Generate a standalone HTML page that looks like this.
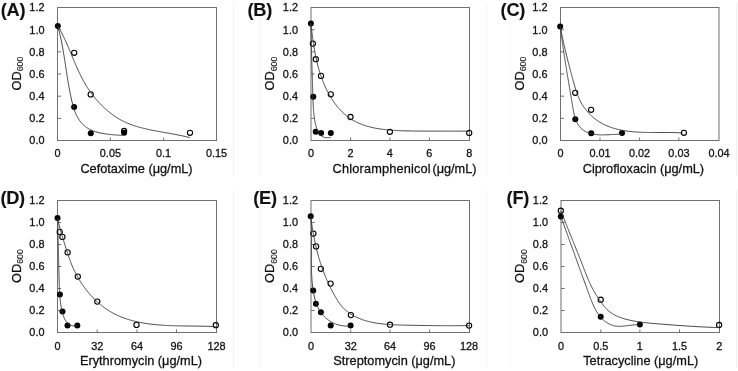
<!DOCTYPE html>
<html><head><meta charset="utf-8"><style>
html,body{margin:0;padding:0;background:#fff;}
body{width:738px;height:371px;overflow:hidden;}
svg{display:block;font-family:"Liberation Sans", sans-serif;filter:grayscale(1);} text{stroke:#111;stroke-width:0.28px;}
</style></head><body>
<svg width="738" height="371" viewBox="0 0 738 371">
<rect width="738" height="371" fill="#fff"/>
<line x1="233.5" y1="3" x2="233.5" y2="176" stroke="#f3f3f3" stroke-width="1"/>
<line x1="233.5" y1="190" x2="233.5" y2="368" stroke="#f3f3f3" stroke-width="1"/>
<line x1="260.5" y1="3" x2="260.5" y2="176" stroke="#f6f6f6" stroke-width="1"/>
<line x1="260.5" y1="190" x2="260.5" y2="368" stroke="#f6f6f6" stroke-width="1"/>
<line x1="486.5" y1="3" x2="486.5" y2="176" stroke="#f4f4f4" stroke-width="1"/>
<line x1="486.5" y1="190" x2="486.5" y2="368" stroke="#f4f4f4" stroke-width="1"/>
<line x1="510.0" y1="3" x2="510.0" y2="176" stroke="#f7f7f7" stroke-width="1"/>
<line x1="510.0" y1="190" x2="510.0" y2="368" stroke="#f7f7f7" stroke-width="1"/>
<line x1="736.5" y1="3" x2="736.5" y2="176" stroke="#f2f2f2" stroke-width="1"/>
<line x1="736.5" y1="190" x2="736.5" y2="368" stroke="#f2f2f2" stroke-width="1"/>
<g><rect x="57.5" y="7.5" width="159.00" height="133.00" fill="none" stroke="#707070" stroke-width="1"/><text x="44.50" y="144.40" font-size="10.9" text-anchor="end" fill="#111">0.0</text><line x1="57.5" y1="118.33" x2="61.1" y2="118.33" stroke="#707070" stroke-width="1"/><text x="44.50" y="122.23" font-size="10.9" text-anchor="end" fill="#111">0.2</text><line x1="57.5" y1="96.17" x2="61.1" y2="96.17" stroke="#707070" stroke-width="1"/><text x="44.50" y="100.07" font-size="10.9" text-anchor="end" fill="#111">0.4</text><line x1="57.5" y1="74.00" x2="61.1" y2="74.00" stroke="#707070" stroke-width="1"/><text x="44.50" y="77.90" font-size="10.9" text-anchor="end" fill="#111">0.6</text><line x1="57.5" y1="51.83" x2="61.1" y2="51.83" stroke="#707070" stroke-width="1"/><text x="44.50" y="55.73" font-size="10.9" text-anchor="end" fill="#111">0.8</text><line x1="57.5" y1="29.67" x2="61.1" y2="29.67" stroke="#707070" stroke-width="1"/><text x="44.50" y="33.57" font-size="10.9" text-anchor="end" fill="#111">1.0</text><text x="44.50" y="11.40" font-size="10.9" text-anchor="end" fill="#111">1.2</text><text x="57.5" y="157.00" font-size="10.9" text-anchor="middle" fill="#111">0</text><line x1="110.4" y1="140.5" x2="110.4" y2="137.5" stroke="#707070" stroke-width="1"/><text x="110.4" y="157.00" font-size="10.9" text-anchor="middle" fill="#111">0.05</text><line x1="163.6" y1="140.5" x2="163.6" y2="137.5" stroke="#707070" stroke-width="1"/><text x="163.6" y="157.00" font-size="10.9" text-anchor="middle" fill="#111">0.1</text><text x="216.6" y="157.00" font-size="10.9" text-anchor="middle" fill="#111">0.15</text><text x="136.5" y="172.60" font-size="12.75" text-anchor="middle" fill="#111">Cefotaxime (μg/mL)</text><text transform="translate(20.80,73.50) rotate(-90)" font-size="12.75" text-anchor="middle" fill="#111">OD<tspan font-size="8.8" dy="2.3" style="stroke-width:0.1px">600</tspan></text><text x="0.7" y="15.50" font-size="18.2" font-weight="bold" letter-spacing="-0.25" fill="#111" style="stroke-width:0.1px">(A)</text><circle cx="74.2" cy="52.8" r="2.6" fill="none" stroke="#000" stroke-width="1.1"/><circle cx="90.7" cy="94.4" r="2.6" fill="none" stroke="#000" stroke-width="1.1"/><circle cx="124.1" cy="131.0" r="2.6" fill="none" stroke="#000" stroke-width="1.1"/><circle cx="190" cy="132.8" r="2.6" fill="none" stroke="#000" stroke-width="1.1"/><circle cx="57.8" cy="26.1" r="3.0" fill="#000"/><circle cx="74.1" cy="107.1" r="3.0" fill="#000"/><circle cx="90.8" cy="133.3" r="3.0" fill="#000"/><circle cx="124.1" cy="132.8" r="3.0" fill="#000"/><path d="M57.78,26.20 L58.05,27.19 L58.32,28.17 L58.59,29.16 L58.84,30.15 L59.10,31.13 L59.34,32.12 L59.59,33.11 L59.82,34.10 L60.06,35.08 L60.28,36.07 L60.50,37.06 L60.72,38.05 L60.94,39.04 L61.14,40.03 L61.35,41.02 L61.55,42.01 L61.75,43.00 L61.94,43.99 L62.13,44.98 L62.32,45.97 L62.50,46.96 L62.68,47.95 L62.86,48.94 L63.04,49.94 L63.21,50.93 L63.38,51.92 L63.55,52.91 L63.71,53.91 L63.88,54.90 L64.04,55.90 L64.20,56.89 L64.36,57.88 L64.51,58.88 L64.67,59.87 L64.82,60.87 L64.98,61.87 L65.13,62.86 L65.28,63.86 L65.43,64.86 L65.59,65.85 L65.74,66.85 L65.89,67.85 L66.04,68.85 L66.19,69.85 L66.35,70.85 L66.50,71.85 L66.65,72.85 L66.81,73.85 L66.96,74.85 L67.12,75.85 L67.28,76.85 L67.44,77.85 L67.60,78.85 L67.76,79.86 L67.92,80.86 L68.09,81.86 L68.26,82.87 L68.43,83.87 L68.60,84.88 L68.78,85.88 L68.96,86.89 L69.14,87.89 L69.33,88.90 L69.52,89.90 L69.71,90.91 L69.91,91.92 L70.10,92.93 L70.31,93.93 L70.52,94.94 L70.73,95.95 L70.94,96.96 L71.16,97.97 L71.39,98.98 L71.62,99.99 L71.85,101.00 L72.09,102.01 L72.34,103.02 L72.60,104.03 L72.86,105.03 L73.14,106.03 L73.42,107.02 L73.72,108.01 L74.03,108.98 L74.35,109.95 L74.69,110.91 L75.04,111.86 L75.41,112.80 L75.79,113.72 L76.20,114.63 L76.62,115.53 L77.06,116.41 L77.53,117.27 L78.01,118.11 L78.52,118.94 L79.05,119.75 L79.60,120.54 L80.17,121.31 L80.76,122.06 L81.37,122.79 L82.01,123.50 L82.66,124.18 L83.34,124.85 L84.04,125.48 L84.76,126.10 L85.51,126.69 L86.27,127.25 L87.06,127.79 L87.87,128.30 L88.71,128.79 L89.56,129.25 L90.43,129.68 L91.32,130.10 L92.23,130.49 L93.15,130.85 L94.09,131.20 L95.05,131.53 L96.01,131.83 L96.99,132.12 L97.98,132.39 L98.98,132.64 L99.99,132.88 L101.01,133.10 L102.03,133.31 L103.07,133.50 L104.10,133.67 L105.14,133.84 L106.19,133.99 L107.23,134.14 L108.28,134.27 L109.33,134.39 L110.38,134.50 L111.42,134.61 L112.46,134.71 L113.50,134.80 L114.53,134.88 L115.56,134.96 L116.58,135.04 L117.60,135.11 L118.60,135.18 L119.59,135.25 L120.58,135.32 L121.55,135.39 L122.51,135.46" fill="none" stroke="#333" stroke-width="0.9"/><path d="M57.87,26.01 L58.38,26.88 L58.88,27.76 L59.38,28.64 L59.87,29.52 L60.35,30.40 L60.82,31.29 L61.29,32.18 L61.76,33.08 L62.21,33.97 L62.66,34.87 L63.11,35.78 L63.55,36.68 L63.99,37.59 L64.42,38.50 L64.84,39.41 L65.27,40.33 L65.68,41.24 L66.10,42.16 L66.51,43.08 L66.92,44.00 L67.32,44.92 L67.72,45.85 L68.12,46.77 L68.52,47.70 L68.92,48.62 L69.31,49.55 L69.70,50.48 L70.09,51.41 L70.48,52.34 L70.87,53.26 L71.26,54.19 L71.64,55.12 L72.03,56.05 L72.42,56.98 L72.81,57.91 L73.19,58.84 L73.58,59.76 L73.97,60.69 L74.36,61.61 L74.76,62.54 L75.15,63.46 L75.55,64.38 L75.95,65.30 L76.35,66.22 L76.75,67.14 L77.16,68.05 L77.57,68.96 L77.98,69.88 L78.40,70.78 L78.82,71.69 L79.24,72.59 L79.67,73.49 L80.10,74.39 L80.54,75.29 L80.99,76.18 L81.44,77.07 L81.89,77.96 L82.35,78.84 L82.82,79.72 L83.29,80.60 L83.77,81.47 L84.25,82.34 L84.74,83.21 L85.24,84.07 L85.75,84.93 L86.27,85.79 L86.79,86.64 L87.32,87.48 L87.86,88.32 L88.41,89.16 L88.96,89.99 L89.53,90.82 L90.10,91.64 L90.69,92.46 L91.28,93.27 L91.88,94.08 L92.49,94.88 L93.10,95.68 L93.73,96.47 L94.36,97.26 L95.00,98.04 L95.65,98.81 L96.31,99.58 L96.98,100.34 L97.65,101.09 L98.33,101.84 L99.01,102.58 L99.71,103.32 L100.41,104.04 L101.12,104.77 L101.83,105.48 L102.55,106.19 L103.28,106.88 L104.02,107.58 L104.76,108.26 L105.51,108.94 L106.26,109.60 L107.02,110.26 L107.79,110.91 L108.56,111.56 L109.34,112.19 L110.13,112.81 L110.92,113.43 L111.72,114.03 L112.53,114.63 L113.34,115.21 L114.16,115.79 L114.98,116.35 L115.82,116.90 L116.65,117.45 L117.50,117.98 L118.35,118.50 L119.21,119.01 L120.07,119.50 L120.94,119.99 L121.81,120.46 L122.70,120.92 L123.58,121.37 L124.48,121.80 L125.38,122.22 L126.28,122.63 L127.20,123.03 L128.11,123.41 L129.04,123.79 L129.97,124.15 L130.90,124.50 L131.84,124.84 L132.78,125.17 L133.72,125.50 L134.67,125.81 L135.63,126.11 L136.59,126.41 L137.55,126.69 L138.51,126.97 L139.48,127.24 L140.45,127.51 L141.42,127.76 L142.40,128.01 L143.37,128.26 L144.35,128.49 L145.33,128.73 L146.31,128.95 L147.30,129.18 L148.28,129.39 L149.27,129.61 L150.26,129.82 L151.25,130.02 L152.24,130.22 L153.23,130.42 L154.22,130.61 L155.21,130.80 L156.21,130.99 L157.20,131.18 L158.20,131.36 L159.19,131.54 L160.19,131.72 L161.18,131.90 L162.18,132.08 L163.18,132.26 L164.17,132.43 L165.17,132.61 L166.17,132.79 L167.16,132.96 L168.16,133.14 L169.15,133.31 L170.15,133.49 L171.14,133.67 L172.13,133.85 L173.13,134.03 L174.12,134.22 L175.11,134.40 L176.10,134.59 L177.09,134.78 L178.07,134.97 L179.06,135.17 L180.04,135.37 L181.03,135.57 L182.01,135.78 L182.99,136.00 L183.97,136.21 L184.94,136.43 L185.92,136.66 L186.89,136.89 L187.86,137.13 L188.82,137.37 L189.79,137.62" fill="none" stroke="#333" stroke-width="0.9"/></g>
<g><rect x="311.0" y="7.5" width="158.50" height="133.00" fill="none" stroke="#707070" stroke-width="1"/><text x="298.00" y="144.40" font-size="10.9" text-anchor="end" fill="#111">0.0</text><line x1="311.0" y1="118.33" x2="314.6" y2="118.33" stroke="#707070" stroke-width="1"/><text x="298.00" y="122.23" font-size="10.9" text-anchor="end" fill="#111">0.2</text><line x1="311.0" y1="96.17" x2="314.6" y2="96.17" stroke="#707070" stroke-width="1"/><text x="298.00" y="100.07" font-size="10.9" text-anchor="end" fill="#111">0.4</text><line x1="311.0" y1="74.00" x2="314.6" y2="74.00" stroke="#707070" stroke-width="1"/><text x="298.00" y="77.90" font-size="10.9" text-anchor="end" fill="#111">0.6</text><line x1="311.0" y1="51.83" x2="314.6" y2="51.83" stroke="#707070" stroke-width="1"/><text x="298.00" y="55.73" font-size="10.9" text-anchor="end" fill="#111">0.8</text><line x1="311.0" y1="29.67" x2="314.6" y2="29.67" stroke="#707070" stroke-width="1"/><text x="298.00" y="33.57" font-size="10.9" text-anchor="end" fill="#111">1.0</text><text x="298.00" y="11.40" font-size="10.9" text-anchor="end" fill="#111">1.2</text><text x="311" y="157.00" font-size="10.9" text-anchor="middle" fill="#111">0</text><line x1="350.6" y1="140.5" x2="350.6" y2="137.5" stroke="#707070" stroke-width="1"/><text x="350.6" y="157.00" font-size="10.9" text-anchor="middle" fill="#111">2</text><line x1="389.9" y1="140.5" x2="389.9" y2="137.5" stroke="#707070" stroke-width="1"/><text x="389.9" y="157.00" font-size="10.9" text-anchor="middle" fill="#111">4</text><line x1="429.4" y1="140.5" x2="429.4" y2="137.5" stroke="#707070" stroke-width="1"/><text x="429.4" y="157.00" font-size="10.9" text-anchor="middle" fill="#111">6</text><text x="469.4" y="157.00" font-size="10.9" text-anchor="middle" fill="#111">8</text><text x="332.6" y="172.60" font-size="12.75" letter-spacing="0.17" fill="#111">Chloramphenicol</text><text x="432.4" y="172.60" font-size="12.75" fill="#111">(μg/mL)</text><text transform="translate(274.30,73.50) rotate(-90)" font-size="12.75" text-anchor="middle" fill="#111">OD<tspan font-size="8.8" dy="2.3" style="stroke-width:0.1px">600</tspan></text><text x="247.5" y="15.50" font-size="18.2" font-weight="bold" letter-spacing="-0.25" fill="#111" style="stroke-width:0.1px">(B)</text><circle cx="312.9" cy="43.6" r="2.6" fill="none" stroke="#000" stroke-width="1.1"/><circle cx="315.8" cy="59.2" r="2.6" fill="none" stroke="#000" stroke-width="1.1"/><circle cx="321" cy="75.9" r="2.6" fill="none" stroke="#000" stroke-width="1.1"/><circle cx="330.8" cy="94.3" r="2.6" fill="none" stroke="#000" stroke-width="1.1"/><circle cx="350.5" cy="117" r="2.6" fill="none" stroke="#000" stroke-width="1.1"/><circle cx="389.9" cy="131.8" r="2.6" fill="none" stroke="#000" stroke-width="1.1"/><circle cx="469.2" cy="132.9" r="2.6" fill="none" stroke="#000" stroke-width="1.1"/><circle cx="310.9" cy="23.4" r="3.0" fill="#000"/><circle cx="313.3" cy="96.7" r="3.0" fill="#000"/><circle cx="315.7" cy="131.7" r="3.0" fill="#000"/><circle cx="321.1" cy="133.1" r="3.0" fill="#000"/><circle cx="330.8" cy="133.1" r="3.0" fill="#000"/><path d="M310.92,23.39 L310.93,24.41 L310.94,25.44 L310.96,26.46 L310.97,27.48 L310.98,28.50 L311.00,29.52 L311.01,30.54 L311.03,31.55 L311.05,32.57 L311.06,33.58 L311.08,34.60 L311.10,35.61 L311.12,36.62 L311.14,37.63 L311.17,38.64 L311.19,39.64 L311.21,40.65 L311.24,41.66 L311.26,42.66 L311.28,43.66 L311.31,44.67 L311.34,45.67 L311.36,46.67 L311.39,47.68 L311.42,48.68 L311.45,49.68 L311.48,50.68 L311.50,51.68 L311.53,52.68 L311.56,53.68 L311.59,54.68 L311.62,55.68 L311.65,56.68 L311.69,57.67 L311.72,58.67 L311.75,59.67 L311.78,60.67 L311.81,61.67 L311.84,62.67 L311.88,63.67 L311.91,64.67 L311.94,65.67 L311.97,66.67 L312.00,67.67 L312.04,68.67 L312.07,69.67 L312.10,70.67 L312.13,71.67 L312.17,72.67 L312.20,73.67 L312.23,74.68 L312.26,75.68 L312.29,76.69 L312.32,77.69 L312.36,78.70 L312.39,79.71 L312.42,80.71 L312.45,81.72 L312.48,82.73 L312.51,83.74 L312.54,84.76 L312.57,85.77 L312.59,86.78 L312.62,87.80 L312.65,88.82 L312.68,89.84 L312.70,90.85 L312.73,91.88 L312.76,92.90 L312.78,93.92 L312.81,94.95 L312.84,95.97 L312.87,97.00 L312.90,98.02 L312.93,99.05 L312.97,100.07 L313.00,101.10 L313.05,102.13 L313.09,103.15 L313.14,104.18 L313.19,105.20 L313.25,106.23 L313.32,107.25 L313.39,108.27 L313.46,109.29 L313.55,110.31 L313.64,111.33 L313.73,112.35 L313.84,113.36 L313.95,114.37 L314.07,115.38 L314.20,116.39 L314.33,117.40 L314.48,118.40 L314.64,119.40 L314.81,120.40 L314.99,121.39 L315.17,122.38 L315.38,123.37 L315.59,124.35 L315.81,125.33 L316.06,126.30 L316.31,127.26 L316.59,128.20 L316.90,129.12 L317.23,130.02 L317.59,130.88 L317.98,131.72 L318.41,132.52 L318.87,133.27 L319.37,133.98 L319.92,134.65 L320.51,135.26 L321.15,135.81 L321.84,136.30 L322.59,136.73 L323.39,137.09 L324.25,137.37 L325.17,137.58 L326.16,137.71 L327.22,137.75 L328.34,137.70 L329.54,137.56 L330.81,137.32" fill="none" stroke="#333" stroke-width="0.9"/><path d="M310.92,23.41 L311.03,24.40 L311.15,25.40 L311.26,26.39 L311.38,27.39 L311.50,28.38 L311.62,29.37 L311.74,30.37 L311.86,31.36 L311.98,32.36 L312.10,33.35 L312.23,34.35 L312.35,35.34 L312.48,36.33 L312.61,37.33 L312.74,38.32 L312.88,39.31 L313.01,40.30 L313.15,41.30 L313.30,42.29 L313.44,43.28 L313.59,44.27 L313.74,45.26 L313.89,46.25 L314.05,47.24 L314.21,48.23 L314.38,49.22 L314.55,50.20 L314.72,51.19 L314.90,52.18 L315.08,53.16 L315.27,54.15 L315.46,55.13 L315.66,56.11 L315.86,57.10 L316.06,58.08 L316.27,59.06 L316.49,60.04 L316.71,61.02 L316.94,62.00 L317.17,62.97 L317.41,63.95 L317.66,64.92 L317.91,65.90 L318.17,66.87 L318.43,67.84 L318.71,68.81 L318.98,69.78 L319.27,70.75 L319.56,71.72 L319.86,72.68 L320.17,73.65 L320.49,74.61 L320.81,75.57 L321.14,76.53 L321.48,77.49 L321.83,78.45 L322.18,79.41 L322.55,80.36 L322.92,81.32 L323.30,82.27 L323.69,83.21 L324.09,84.16 L324.49,85.10 L324.91,86.04 L325.33,86.98 L325.77,87.91 L326.21,88.84 L326.66,89.76 L327.12,90.68 L327.58,91.59 L328.06,92.50 L328.54,93.40 L329.04,94.30 L329.54,95.19 L330.05,96.07 L330.57,96.95 L331.10,97.82 L331.64,98.68 L332.19,99.53 L332.75,100.38 L333.31,101.22 L333.89,102.05 L334.47,102.87 L335.06,103.68 L335.67,104.48 L336.28,105.28 L336.90,106.06 L337.53,106.83 L338.17,107.60 L338.82,108.35 L339.47,109.09 L340.14,109.82 L340.82,110.54 L341.50,111.24 L342.20,111.93 L342.90,112.62 L343.62,113.28 L344.34,113.94 L345.08,114.58 L345.82,115.21 L346.57,115.82 L347.33,116.42 L348.11,117.01 L348.89,117.58 L349.68,118.13 L350.48,118.67 L351.29,119.20 L352.11,119.71 L352.94,120.20 L353.78,120.68 L354.63,121.15 L355.49,121.60 L356.35,122.03 L357.23,122.45 L358.11,122.86 L359.00,123.25 L359.90,123.63 L360.80,124.00 L361.71,124.36 L362.63,124.70 L363.56,125.03 L364.49,125.35 L365.43,125.65 L366.38,125.95 L367.33,126.23 L368.29,126.50 L369.25,126.76 L370.22,127.01 L371.19,127.25 L372.17,127.48 L373.16,127.70 L374.14,127.91 L375.14,128.11 L376.14,128.30 L377.14,128.48 L378.14,128.66 L379.15,128.82 L380.16,128.98 L381.18,129.12 L382.20,129.26 L383.22,129.40 L384.24,129.52 L385.27,129.64 L386.29,129.75 L387.32,129.86 L388.36,129.95 L389.39,130.05 L390.42,130.13 L391.46,130.21 L392.50,130.29 L393.53,130.36 L394.57,130.42 L395.61,130.48 L396.65,130.54 L397.68,130.59 L398.72,130.64 L399.76,130.68 L400.80,130.72 L401.83,130.76 L402.87,130.79 L403.90,130.82 L404.93,130.85 L405.96,130.87 L406.99,130.90 L408.01,130.92 L409.03,130.94 L410.05,130.96 L411.07,130.98 L412.09,130.99 L413.10,131.01 L414.11,131.02 L415.12,131.03 L416.12,131.05 L417.13,131.06 L418.13,131.07 L419.13,131.07 L420.13,131.08 L421.12,131.09 L422.12,131.10 L423.11,131.10 L424.10,131.11 L425.09,131.11 L426.08,131.11 L427.07,131.12 L428.06,131.12 L429.05,131.12 L430.03,131.12 L431.02,131.12 L432.01,131.12 L432.99,131.12 L433.98,131.12 L434.96,131.12 L435.95,131.12 L436.93,131.12 L437.92,131.12 L438.90,131.12 L439.89,131.12 L440.87,131.12 L441.86,131.11 L442.85,131.11 L443.83,131.11 L444.82,131.11 L445.81,131.11 L446.80,131.11 L447.80,131.11 L448.79,131.11 L449.79,131.11 L450.78,131.11 L451.78,131.11 L452.78,131.11 L453.78,131.11 L454.79,131.11 L455.79,131.11 L456.80,131.12 L457.81,131.12 L458.83,131.12 L459.84,131.13 L460.86,131.14 L461.88,131.14 L462.91,131.15 L463.93,131.16 L464.96,131.17 L466.00,131.18 L467.03,131.19 L468.07,131.20 L469.12,131.21" fill="none" stroke="#333" stroke-width="0.9"/></g>
<g><rect x="560.5" y="7.5" width="158.50" height="133.00" fill="none" stroke="#707070" stroke-width="1"/><text x="547.50" y="144.40" font-size="10.9" text-anchor="end" fill="#111">0.0</text><line x1="560.5" y1="118.33" x2="564.1" y2="118.33" stroke="#707070" stroke-width="1"/><text x="547.50" y="122.23" font-size="10.9" text-anchor="end" fill="#111">0.2</text><line x1="560.5" y1="96.17" x2="564.1" y2="96.17" stroke="#707070" stroke-width="1"/><text x="547.50" y="100.07" font-size="10.9" text-anchor="end" fill="#111">0.4</text><line x1="560.5" y1="74.00" x2="564.1" y2="74.00" stroke="#707070" stroke-width="1"/><text x="547.50" y="77.90" font-size="10.9" text-anchor="end" fill="#111">0.6</text><line x1="560.5" y1="51.83" x2="564.1" y2="51.83" stroke="#707070" stroke-width="1"/><text x="547.50" y="55.73" font-size="10.9" text-anchor="end" fill="#111">0.8</text><line x1="560.5" y1="29.67" x2="564.1" y2="29.67" stroke="#707070" stroke-width="1"/><text x="547.50" y="33.57" font-size="10.9" text-anchor="end" fill="#111">1.0</text><text x="547.50" y="11.40" font-size="10.9" text-anchor="end" fill="#111">1.2</text><text x="560.5" y="157.00" font-size="10.9" text-anchor="middle" fill="#111">0</text><line x1="600" y1="140.5" x2="600" y2="137.5" stroke="#707070" stroke-width="1"/><text x="600" y="157.00" font-size="10.9" text-anchor="middle" fill="#111">0.01</text><line x1="639.6" y1="140.5" x2="639.6" y2="137.5" stroke="#707070" stroke-width="1"/><text x="639.6" y="157.00" font-size="10.9" text-anchor="middle" fill="#111">0.02</text><line x1="678.9" y1="140.5" x2="678.9" y2="137.5" stroke="#707070" stroke-width="1"/><text x="678.9" y="157.00" font-size="10.9" text-anchor="middle" fill="#111">0.03</text><text x="719" y="157.00" font-size="10.9" text-anchor="middle" fill="#111">0.04</text><text x="643.4" y="172.60" font-size="12.75" text-anchor="middle" fill="#111">Ciprofloxacin (μg/mL)</text><text transform="translate(523.80,73.50) rotate(-90)" font-size="12.75" text-anchor="middle" fill="#111">OD<tspan font-size="8.8" dy="2.3" style="stroke-width:0.1px">600</tspan></text><text x="500.6" y="15.50" font-size="18.2" font-weight="bold" letter-spacing="-0.25" fill="#111" style="stroke-width:0.1px">(C)</text><circle cx="575.2" cy="92.8" r="2.6" fill="none" stroke="#000" stroke-width="1.1"/><circle cx="591.1" cy="109.8" r="2.6" fill="none" stroke="#000" stroke-width="1.1"/><circle cx="683.9" cy="132.8" r="2.6" fill="none" stroke="#000" stroke-width="1.1"/><circle cx="560.2" cy="26.4" r="3.0" fill="#000"/><circle cx="575.3" cy="119.3" r="3.0" fill="#000"/><circle cx="591.2" cy="133.3" r="3.0" fill="#000"/><circle cx="622" cy="132.9" r="3.0" fill="#000"/><path d="M560.42,26.48 L560.54,27.51 L560.66,28.53 L560.77,29.56 L560.90,30.58 L561.02,31.59 L561.14,32.61 L561.27,33.63 L561.39,34.64 L561.52,35.65 L561.65,36.66 L561.78,37.67 L561.91,38.67 L562.04,39.68 L562.17,40.68 L562.31,41.68 L562.44,42.68 L562.58,43.68 L562.72,44.68 L562.86,45.68 L563.00,46.67 L563.14,47.67 L563.28,48.66 L563.43,49.65 L563.57,50.65 L563.72,51.64 L563.86,52.63 L564.01,53.62 L564.16,54.61 L564.31,55.59 L564.46,56.58 L564.61,57.57 L564.76,58.56 L564.92,59.54 L565.07,60.53 L565.22,61.52 L565.38,62.50 L565.53,63.49 L565.69,64.47 L565.85,65.46 L566.01,66.45 L566.17,67.43 L566.33,68.42 L566.49,69.41 L566.65,70.39 L566.81,71.38 L566.97,72.37 L567.13,73.36 L567.30,74.35 L567.46,75.34 L567.62,76.33 L567.79,77.32 L567.95,78.31 L568.12,79.30 L568.29,80.29 L568.45,81.29 L568.62,82.29 L568.79,83.28 L568.95,84.28 L569.12,85.28 L569.29,86.28 L569.46,87.28 L569.63,88.28 L569.80,89.29 L569.97,90.29 L570.14,91.30 L570.31,92.31 L570.48,93.32 L570.65,94.33 L570.82,95.35 L570.99,96.36 L571.16,97.38 L571.33,98.40 L571.50,99.43 L571.67,100.45 L571.84,101.48 L572.01,102.50 L572.18,103.54 L572.35,104.57 L572.53,105.60 L572.70,106.64 L572.87,107.68 L573.05,108.72 L573.23,109.75 L573.43,110.78 L573.63,111.80 L573.84,112.82 L574.06,113.83 L574.30,114.83 L574.55,115.82 L574.82,116.80 L575.11,117.77 L575.42,118.72 L575.75,119.65 L576.10,120.56 L576.48,121.46 L576.89,122.34 L577.32,123.19 L577.79,124.02 L578.28,124.83 L578.81,125.61 L579.37,126.36 L579.96,127.08 L580.59,127.78 L581.24,128.45 L581.92,129.08 L582.63,129.68 L583.37,130.25 L584.14,130.78 L584.93,131.28 L585.75,131.74 L586.60,132.16 L587.47,132.54 L588.37,132.89 L589.29,133.21 L590.22,133.49 L591.18,133.74 L592.16,133.97 L593.15,134.16 L594.16,134.33 L595.18,134.47 L596.21,134.59 L597.26,134.68 L598.31,134.76 L599.37,134.81 L600.44,134.85 L601.52,134.88 L602.60,134.88 L603.68,134.88 L604.76,134.86 L605.84,134.83 L606.92,134.80 L608.00,134.75 L609.07,134.70 L610.14,134.65 L611.20,134.59 L612.25,134.53 L613.29,134.47 L614.32,134.42 L615.33,134.36 L616.34,134.31 L617.32,134.27 L618.29,134.23 L619.25,134.21 L620.18,134.19 L621.09,134.18 L621.98,134.19" fill="none" stroke="#333" stroke-width="0.9"/><path d="M560.38,26.50 L560.56,27.50 L560.74,28.50 L560.92,29.49 L561.10,30.49 L561.29,31.48 L561.48,32.47 L561.67,33.46 L561.87,34.46 L562.06,35.44 L562.26,36.43 L562.46,37.42 L562.67,38.41 L562.88,39.39 L563.08,40.38 L563.30,41.36 L563.51,42.34 L563.72,43.33 L563.94,44.31 L564.16,45.29 L564.38,46.27 L564.61,47.25 L564.83,48.22 L565.06,49.20 L565.29,50.18 L565.52,51.16 L565.75,52.13 L565.99,53.11 L566.22,54.08 L566.46,55.06 L566.70,56.03 L566.94,57.00 L567.18,57.98 L567.42,58.95 L567.67,59.92 L567.92,60.89 L568.16,61.86 L568.41,62.83 L568.66,63.80 L568.92,64.77 L569.17,65.74 L569.42,66.71 L569.68,67.68 L569.93,68.65 L570.19,69.62 L570.45,70.59 L570.71,71.56 L570.96,72.53 L571.23,73.50 L571.49,74.47 L571.75,75.44 L572.01,76.41 L572.27,77.38 L572.54,78.35 L572.80,79.32 L573.07,80.29 L573.33,81.26 L573.60,82.23 L573.87,83.20 L574.14,84.16 L574.41,85.13 L574.69,86.10 L574.98,87.06 L575.27,88.02 L575.56,88.98 L575.87,89.94 L576.18,90.90 L576.50,91.85 L576.83,92.79 L577.17,93.74 L577.52,94.68 L577.88,95.61 L578.25,96.54 L578.64,97.47 L579.04,98.39 L579.46,99.30 L579.89,100.21 L580.34,101.12 L580.80,102.01 L581.28,102.90 L581.79,103.78 L582.31,104.65 L582.84,105.52 L583.40,106.38 L583.98,107.23 L584.57,108.07 L585.18,108.89 L585.81,109.71 L586.45,110.52 L587.11,111.31 L587.78,112.09 L588.47,112.85 L589.17,113.61 L589.88,114.34 L590.61,115.07 L591.34,115.77 L592.09,116.46 L592.85,117.13 L593.62,117.79 L594.39,118.42 L595.18,119.04 L595.97,119.64 L596.78,120.22 L597.59,120.78 L598.41,121.32 L599.24,121.85 L600.07,122.36 L600.92,122.86 L601.77,123.34 L602.63,123.80 L603.49,124.25 L604.37,124.68 L605.25,125.09 L606.14,125.50 L607.03,125.88 L607.93,126.25 L608.84,126.61 L609.75,126.96 L610.67,127.29 L611.60,127.60 L612.53,127.91 L613.46,128.20 L614.41,128.48 L615.36,128.75 L616.31,129.00 L617.27,129.24 L618.23,129.48 L619.20,129.70 L620.17,129.91 L621.15,130.10 L622.13,130.29 L623.11,130.47 L624.10,130.64 L625.09,130.80 L626.09,130.95 L627.09,131.09 L628.09,131.22 L629.10,131.35 L630.10,131.46 L631.12,131.57 L632.13,131.67 L633.15,131.76 L634.17,131.85 L635.19,131.93 L636.21,132.00 L637.24,132.07 L638.26,132.13 L639.29,132.18 L640.32,132.23 L641.35,132.28 L642.38,132.32 L643.42,132.35 L644.45,132.38 L645.48,132.41 L646.52,132.43 L647.55,132.45 L648.59,132.46 L649.63,132.48 L650.66,132.49 L651.70,132.49 L652.73,132.50 L653.76,132.50 L654.80,132.50 L655.83,132.50 L656.86,132.50 L657.89,132.50 L658.92,132.50 L659.94,132.50 L660.97,132.49 L661.99,132.49 L663.01,132.49 L664.03,132.49 L665.04,132.49 L666.06,132.49 L667.07,132.49 L668.08,132.50 L669.08,132.51 L670.08,132.52 L671.08,132.53 L672.08,132.54 L673.07,132.56 L674.05,132.59 L675.04,132.61 L676.02,132.64 L676.99,132.68 L677.96,132.71 L678.93,132.76 L679.89,132.81 L680.85,132.86 L681.80,132.92 L682.75,132.99" fill="none" stroke="#333" stroke-width="0.9"/></g>
<g><rect x="57.5" y="200.5" width="159.00" height="132.00" fill="none" stroke="#707070" stroke-width="1"/><text x="44.50" y="336.40" font-size="10.9" text-anchor="end" fill="#111">0.0</text><line x1="57.5" y1="310.50" x2="61.1" y2="310.50" stroke="#707070" stroke-width="1"/><text x="44.50" y="314.40" font-size="10.9" text-anchor="end" fill="#111">0.2</text><line x1="57.5" y1="288.50" x2="61.1" y2="288.50" stroke="#707070" stroke-width="1"/><text x="44.50" y="292.40" font-size="10.9" text-anchor="end" fill="#111">0.4</text><line x1="57.5" y1="266.50" x2="61.1" y2="266.50" stroke="#707070" stroke-width="1"/><text x="44.50" y="270.40" font-size="10.9" text-anchor="end" fill="#111">0.6</text><line x1="57.5" y1="244.50" x2="61.1" y2="244.50" stroke="#707070" stroke-width="1"/><text x="44.50" y="248.40" font-size="10.9" text-anchor="end" fill="#111">0.8</text><line x1="57.5" y1="222.50" x2="61.1" y2="222.50" stroke="#707070" stroke-width="1"/><text x="44.50" y="226.40" font-size="10.9" text-anchor="end" fill="#111">1.0</text><text x="44.50" y="204.40" font-size="10.9" text-anchor="end" fill="#111">1.2</text><text x="57.5" y="349.60" font-size="10.9" text-anchor="middle" fill="#111">0</text><line x1="97.2" y1="332.5" x2="97.2" y2="329.5" stroke="#707070" stroke-width="1"/><text x="97.2" y="349.60" font-size="10.9" text-anchor="middle" fill="#111">32</text><line x1="137.0" y1="332.5" x2="137.0" y2="329.5" stroke="#707070" stroke-width="1"/><text x="137.0" y="349.60" font-size="10.9" text-anchor="middle" fill="#111">64</text><line x1="176.5" y1="332.5" x2="176.5" y2="329.5" stroke="#707070" stroke-width="1"/><text x="176.5" y="349.60" font-size="10.9" text-anchor="middle" fill="#111">96</text><text x="216.5" y="349.60" font-size="10.9" text-anchor="middle" fill="#111">128</text><text x="141.0" y="364.60" font-size="12.75" text-anchor="middle" fill="#111">Erythromycin (μg/mL)</text><text transform="translate(20.80,266.00) rotate(-90)" font-size="12.75" text-anchor="middle" fill="#111">OD<tspan font-size="8.8" dy="2.3" style="stroke-width:0.1px">600</tspan></text><text x="0.4" y="204.10" font-size="18.2" font-weight="bold" letter-spacing="-0.25" fill="#111" style="stroke-width:0.1px">(D)</text><circle cx="59.7" cy="231.9" r="2.6" fill="none" stroke="#000" stroke-width="1.1"/><circle cx="62.4" cy="236.9" r="2.6" fill="none" stroke="#000" stroke-width="1.1"/><circle cx="67.6" cy="252.4" r="2.6" fill="none" stroke="#000" stroke-width="1.1"/><circle cx="77.8" cy="276.6" r="2.6" fill="none" stroke="#000" stroke-width="1.1"/><circle cx="97.3" cy="301.6" r="2.6" fill="none" stroke="#000" stroke-width="1.1"/><circle cx="136.5" cy="324.9" r="2.6" fill="none" stroke="#000" stroke-width="1.1"/><circle cx="215.8" cy="325.2" r="2.6" fill="none" stroke="#000" stroke-width="1.1"/><circle cx="57.5" cy="218.1" r="3.0" fill="#000"/><circle cx="59.9" cy="294.5" r="3.0" fill="#000"/><circle cx="62.5" cy="311.4" r="3.0" fill="#000"/><circle cx="67.5" cy="325.6" r="3.0" fill="#000"/><circle cx="77.3" cy="325.6" r="3.0" fill="#000"/><path d="M57.61,218.18 L57.64,219.23 L57.67,220.27 L57.70,221.30 L57.73,222.34 L57.76,223.37 L57.79,224.40 L57.81,225.43 L57.84,226.46 L57.87,227.49 L57.90,228.51 L57.92,229.53 L57.95,230.55 L57.97,231.57 L58.00,232.59 L58.02,233.61 L58.05,234.62 L58.07,235.63 L58.09,236.65 L58.12,237.66 L58.14,238.67 L58.16,239.68 L58.19,240.68 L58.21,241.69 L58.23,242.70 L58.25,243.70 L58.28,244.71 L58.30,245.71 L58.32,246.72 L58.34,247.72 L58.36,248.73 L58.39,249.73 L58.41,250.73 L58.43,251.73 L58.45,252.74 L58.47,253.74 L58.50,254.74 L58.52,255.75 L58.54,256.75 L58.56,257.75 L58.59,258.76 L58.61,259.76 L58.63,260.76 L58.66,261.77 L58.68,262.78 L58.70,263.78 L58.73,264.79 L58.75,265.80 L58.78,266.81 L58.80,267.82 L58.83,268.83 L58.85,269.84 L58.88,270.86 L58.91,271.87 L58.94,272.89 L58.96,273.90 L58.99,274.92 L59.02,275.94 L59.05,276.97 L59.08,277.99 L59.11,279.02 L59.14,280.04 L59.18,281.07 L59.21,282.10 L59.24,283.14 L59.28,284.17 L59.31,285.21 L59.35,286.25 L59.38,287.29 L59.42,288.34 L59.47,289.38 L59.51,290.43 L59.56,291.47 L59.62,292.51 L59.67,293.56 L59.74,294.60 L59.81,295.64 L59.89,296.68 L59.97,297.72 L60.06,298.76 L60.16,299.79 L60.27,300.82 L60.39,301.85 L60.52,302.87 L60.66,303.89 L60.81,304.90 L60.97,305.91 L61.14,306.92 L61.33,307.92 L61.53,308.91 L61.74,309.89 L61.97,310.87 L62.22,311.85 L62.48,312.81 L62.75,313.77 L63.04,314.72 L63.35,315.66 L63.68,316.58 L64.03,317.49 L64.41,318.38 L64.82,319.23 L65.25,320.06 L65.72,320.85 L66.23,321.60 L66.77,322.31 L67.36,322.97 L67.99,323.57 L68.67,324.11 L69.39,324.59 L70.17,325.01 L71.00,325.35 L71.89,325.61 L72.84,325.80 L73.85,325.90 L74.93,325.91 L76.08,325.82 L77.29,325.64" fill="none" stroke="#333" stroke-width="0.9"/><path d="M57.55,218.21 L57.77,219.19 L57.99,220.18 L58.21,221.16 L58.44,222.14 L58.68,223.11 L58.92,224.09 L59.17,225.06 L59.42,226.03 L59.67,227.01 L59.93,227.98 L60.19,228.94 L60.45,229.91 L60.72,230.88 L60.99,231.84 L61.27,232.81 L61.54,233.77 L61.82,234.73 L62.11,235.69 L62.39,236.65 L62.68,237.61 L62.96,238.57 L63.25,239.52 L63.54,240.48 L63.84,241.43 L64.13,242.39 L64.42,243.34 L64.72,244.29 L65.01,245.25 L65.31,246.20 L65.61,247.15 L65.90,248.10 L66.20,249.05 L66.50,250.00 L66.80,250.95 L67.11,251.90 L67.42,252.84 L67.73,253.79 L68.04,254.73 L68.36,255.67 L68.68,256.62 L69.01,257.56 L69.34,258.49 L69.68,259.43 L70.02,260.37 L70.37,261.30 L70.73,262.23 L71.09,263.16 L71.46,264.09 L71.84,265.02 L72.22,265.94 L72.61,266.86 L73.02,267.78 L73.43,268.70 L73.85,269.61 L74.28,270.52 L74.72,271.43 L75.17,272.34 L75.63,273.24 L76.10,274.14 L76.57,275.04 L77.06,275.94 L77.55,276.82 L78.06,277.71 L78.57,278.59 L79.09,279.47 L79.62,280.34 L80.16,281.21 L80.71,282.08 L81.27,282.93 L81.83,283.79 L82.41,284.64 L82.99,285.48 L83.58,286.32 L84.18,287.15 L84.78,287.97 L85.40,288.79 L86.02,289.60 L86.65,290.41 L87.29,291.21 L87.93,292.00 L88.59,292.79 L89.25,293.57 L89.92,294.34 L90.59,295.10 L91.28,295.86 L91.97,296.61 L92.66,297.35 L93.37,298.08 L94.08,298.80 L94.80,299.52 L95.53,300.22 L96.26,300.92 L97.00,301.61 L97.75,302.29 L98.50,302.96 L99.26,303.61 L100.03,304.26 L100.80,304.90 L101.58,305.53 L102.37,306.15 L103.16,306.76 L103.96,307.36 L104.77,307.95 L105.58,308.52 L106.40,309.09 L107.22,309.64 L108.05,310.18 L108.88,310.71 L109.72,311.23 L110.57,311.74 L111.42,312.23 L112.28,312.72 L113.14,313.19 L114.01,313.65 L114.88,314.09 L115.76,314.53 L116.65,314.96 L117.53,315.37 L118.43,315.78 L119.33,316.17 L120.23,316.55 L121.14,316.93 L122.05,317.29 L122.96,317.64 L123.89,317.99 L124.81,318.32 L125.74,318.64 L126.67,318.96 L127.61,319.26 L128.55,319.56 L129.50,319.84 L130.45,320.12 L131.40,320.39 L132.36,320.65 L133.32,320.90 L134.28,321.15 L135.25,321.38 L136.21,321.61 L137.19,321.83 L138.16,322.04 L139.14,322.24 L140.12,322.44 L141.11,322.63 L142.10,322.81 L143.09,322.99 L144.08,323.16 L145.08,323.32 L146.07,323.48 L147.07,323.62 L148.07,323.77 L149.08,323.90 L150.09,324.03 L151.09,324.16 L152.10,324.28 L153.12,324.39 L154.13,324.50 L155.14,324.60 L156.16,324.70 L157.18,324.80 L158.20,324.88 L159.22,324.97 L160.24,325.05 L161.26,325.12 L162.29,325.19 L163.31,325.26 L164.34,325.32 L165.36,325.38 L166.39,325.43 L167.42,325.49 L168.45,325.53 L169.48,325.58 L170.51,325.62 L171.53,325.66 L172.56,325.70 L173.59,325.73 L174.62,325.76 L175.65,325.79 L176.68,325.82 L177.71,325.84 L178.74,325.86 L179.77,325.89 L180.79,325.90 L181.82,325.92 L182.85,325.94 L183.87,325.96 L184.89,325.97 L185.92,325.98 L186.94,326.00 L187.96,326.01 L188.98,326.02 L190.00,326.03 L191.02,326.04 L192.03,326.05 L193.05,326.07 L194.06,326.08 L195.07,326.09 L196.08,326.10 L197.08,326.12 L198.09,326.13 L199.09,326.15 L200.09,326.16 L201.09,326.18 L202.09,326.20 L203.08,326.22 L204.07,326.24 L205.06,326.27 L206.05,326.29 L207.03,326.32 L208.01,326.35 L208.98,326.39 L209.96,326.42 L210.93,326.46 L211.90,326.50 L212.86,326.55 L213.82,326.60 L214.78,326.65 L215.73,326.70" fill="none" stroke="#333" stroke-width="0.9"/></g>
<g><rect x="311.0" y="200.5" width="158.50" height="132.00" fill="none" stroke="#707070" stroke-width="1"/><text x="298.00" y="336.40" font-size="10.9" text-anchor="end" fill="#111">0.0</text><line x1="311.0" y1="310.50" x2="314.6" y2="310.50" stroke="#707070" stroke-width="1"/><text x="298.00" y="314.40" font-size="10.9" text-anchor="end" fill="#111">0.2</text><line x1="311.0" y1="288.50" x2="314.6" y2="288.50" stroke="#707070" stroke-width="1"/><text x="298.00" y="292.40" font-size="10.9" text-anchor="end" fill="#111">0.4</text><line x1="311.0" y1="266.50" x2="314.6" y2="266.50" stroke="#707070" stroke-width="1"/><text x="298.00" y="270.40" font-size="10.9" text-anchor="end" fill="#111">0.6</text><line x1="311.0" y1="244.50" x2="314.6" y2="244.50" stroke="#707070" stroke-width="1"/><text x="298.00" y="248.40" font-size="10.9" text-anchor="end" fill="#111">0.8</text><line x1="311.0" y1="222.50" x2="314.6" y2="222.50" stroke="#707070" stroke-width="1"/><text x="298.00" y="226.40" font-size="10.9" text-anchor="end" fill="#111">1.0</text><text x="298.00" y="204.40" font-size="10.9" text-anchor="end" fill="#111">1.2</text><text x="311" y="349.60" font-size="10.9" text-anchor="middle" fill="#111">0</text><line x1="350.7" y1="332.5" x2="350.7" y2="329.5" stroke="#707070" stroke-width="1"/><text x="350.7" y="349.60" font-size="10.9" text-anchor="middle" fill="#111">32</text><line x1="390" y1="332.5" x2="390" y2="329.5" stroke="#707070" stroke-width="1"/><text x="390" y="349.60" font-size="10.9" text-anchor="middle" fill="#111">64</text><line x1="429.6" y1="332.5" x2="429.6" y2="329.5" stroke="#707070" stroke-width="1"/><text x="429.6" y="349.60" font-size="10.9" text-anchor="middle" fill="#111">96</text><text x="469.1" y="349.60" font-size="10.9" text-anchor="middle" fill="#111">128</text><text x="394.4" y="364.60" font-size="12.75" text-anchor="middle" fill="#111">Streptomycin (μg/mL)</text><text transform="translate(274.30,266.00) rotate(-90)" font-size="12.75" text-anchor="middle" fill="#111">OD<tspan font-size="8.8" dy="2.3" style="stroke-width:0.1px">600</tspan></text><text x="253.3" y="204.10" font-size="18.2" font-weight="bold" letter-spacing="-0.25" fill="#111" style="stroke-width:0.1px">(E)</text><circle cx="313.4" cy="233.6" r="2.6" fill="none" stroke="#000" stroke-width="1.1"/><circle cx="316.1" cy="246.4" r="2.6" fill="none" stroke="#000" stroke-width="1.1"/><circle cx="320.8" cy="268.8" r="2.6" fill="none" stroke="#000" stroke-width="1.1"/><circle cx="330.6" cy="283.6" r="2.6" fill="none" stroke="#000" stroke-width="1.1"/><circle cx="350.9" cy="315.1" r="2.6" fill="none" stroke="#000" stroke-width="1.1"/><circle cx="390" cy="324.7" r="2.6" fill="none" stroke="#000" stroke-width="1.1"/><circle cx="469.1" cy="325.6" r="2.6" fill="none" stroke="#000" stroke-width="1.1"/><circle cx="310.7" cy="216.3" r="3.0" fill="#000"/><circle cx="313.2" cy="290.4" r="3.0" fill="#000"/><circle cx="315.9" cy="303.7" r="3.0" fill="#000"/><circle cx="320.9" cy="312.3" r="3.0" fill="#000"/><circle cx="330.7" cy="325.5" r="3.0" fill="#000"/><circle cx="350.6" cy="325.6" r="3.0" fill="#000"/><path d="M310.65,216.30 L310.75,217.31 L310.85,218.32 L310.93,219.33 L311.01,220.34 L311.08,221.34 L311.15,222.35 L311.21,223.36 L311.27,224.37 L311.32,225.37 L311.36,226.38 L311.40,227.39 L311.44,228.40 L311.47,229.40 L311.50,230.41 L311.52,231.42 L311.54,232.43 L311.56,233.43 L311.57,234.44 L311.58,235.45 L311.58,236.46 L311.59,237.46 L311.59,238.47 L311.59,239.48 L311.58,240.49 L311.58,241.49 L311.57,242.50 L311.56,243.51 L311.55,244.52 L311.54,245.52 L311.53,246.53 L311.52,247.54 L311.50,248.55 L311.49,249.55 L311.48,250.56 L311.46,251.57 L311.45,252.58 L311.44,253.59 L311.42,254.60 L311.41,255.60 L311.40,256.61 L311.40,257.62 L311.39,258.63 L311.38,259.64 L311.38,260.65 L311.38,261.66 L311.38,262.67 L311.39,263.68 L311.39,264.69 L311.40,265.70 L311.42,266.71 L311.44,267.72 L311.46,268.73 L311.48,269.74 L311.51,270.75 L311.54,271.77 L311.58,272.78 L311.62,273.79 L311.67,274.80 L311.72,275.81 L311.78,276.83 L311.84,277.84 L311.91,278.85 L311.99,279.87 L312.07,280.88 L312.15,281.90 L312.25,282.91 L312.35,283.93 L312.46,284.94 L312.57,285.96 L312.70,286.97 L312.83,287.99 L312.96,289.01 L313.11,290.02 L313.27,291.03 L313.43,292.04 L313.61,293.05 L313.80,294.06 L314.00,295.06 L314.21,296.05 L314.44,297.04 L314.68,298.02 L314.93,299.00 L315.20,299.97 L315.48,300.93 L315.78,301.89 L316.10,302.83 L316.43,303.76 L316.78,304.69 L317.15,305.60 L317.53,306.50 L317.94,307.39 L318.36,308.26 L318.81,309.12 L319.28,309.97 L319.77,310.80 L320.28,311.62 L320.81,312.42 L321.37,313.20 L321.95,313.97 L322.56,314.71 L323.19,315.44 L323.84,316.15 L324.52,316.84 L325.22,317.51 L325.95,318.16 L326.69,318.79 L327.46,319.39 L328.25,319.97 L329.06,320.53 L329.88,321.07 L330.73,321.58 L331.60,322.07 L332.48,322.54 L333.38,322.98 L334.29,323.39 L335.22,323.78 L336.17,324.14 L337.13,324.47 L338.10,324.77 L339.09,325.05 L340.09,325.30 L341.11,325.51 L342.13,325.70 L343.16,325.86 L344.21,325.99 L345.26,326.08 L346.32,326.15 L347.39,326.18 L348.47,326.17 L349.56,326.14 L350.65,326.07" fill="none" stroke="#333" stroke-width="0.9"/><path d="M310.70,216.30 L310.84,217.30 L310.97,218.30 L311.11,219.30 L311.25,220.30 L311.39,221.30 L311.53,222.30 L311.68,223.30 L311.82,224.30 L311.98,225.30 L312.13,226.30 L312.28,227.30 L312.44,228.29 L312.61,229.29 L312.77,230.28 L312.94,231.28 L313.11,232.27 L313.28,233.26 L313.46,234.26 L313.64,235.25 L313.82,236.24 L314.01,237.23 L314.20,238.22 L314.39,239.21 L314.59,240.19 L314.79,241.18 L315.00,242.16 L315.21,243.15 L315.42,244.13 L315.64,245.11 L315.86,246.09 L316.08,247.07 L316.31,248.05 L316.55,249.03 L316.78,250.00 L317.03,250.98 L317.27,251.95 L317.52,252.92 L317.78,253.89 L318.04,254.86 L318.31,255.83 L318.58,256.79 L318.85,257.76 L319.13,258.72 L319.42,259.68 L319.71,260.64 L320.00,261.60 L320.30,262.56 L320.61,263.51 L320.92,264.47 L321.24,265.42 L321.56,266.37 L321.89,267.32 L322.22,268.27 L322.56,269.21 L322.90,270.15 L323.26,271.09 L323.61,272.03 L323.98,272.97 L324.34,273.91 L324.72,274.84 L325.10,275.77 L325.48,276.70 L325.87,277.63 L326.27,278.56 L326.67,279.48 L327.08,280.40 L327.49,281.32 L327.91,282.24 L328.33,283.16 L328.76,284.07 L329.19,284.99 L329.63,285.90 L330.08,286.81 L330.53,287.71 L330.98,288.62 L331.44,289.52 L331.90,290.42 L332.37,291.32 L332.84,292.22 L333.32,293.12 L333.80,294.01 L334.29,294.90 L334.78,295.79 L335.28,296.68 L335.78,297.56 L336.30,298.44 L336.81,299.31 L337.34,300.17 L337.88,301.03 L338.43,301.87 L339.00,302.71 L339.58,303.53 L340.17,304.33 L340.78,305.12 L341.40,305.90 L342.05,306.65 L342.71,307.39 L343.39,308.11 L344.10,308.81 L344.82,309.48 L345.55,310.14 L346.30,310.78 L347.07,311.41 L347.85,312.01 L348.64,312.60 L349.45,313.16 L350.26,313.71 L351.09,314.25 L351.92,314.76 L352.77,315.26 L353.62,315.74 L354.48,316.21 L355.35,316.66 L356.22,317.09 L357.11,317.51 L358.00,317.91 L358.90,318.30 L359.80,318.67 L360.72,319.03 L361.64,319.38 L362.56,319.71 L363.50,320.02 L364.44,320.33 L365.38,320.62 L366.33,320.90 L367.29,321.17 L368.25,321.42 L369.22,321.66 L370.19,321.90 L371.16,322.12 L372.14,322.33 L373.13,322.53 L374.12,322.72 L375.11,322.90 L376.11,323.07 L377.11,323.23 L378.12,323.38 L379.12,323.52 L380.13,323.66 L381.15,323.78 L382.16,323.90 L383.18,324.01 L384.20,324.12 L385.23,324.22 L386.25,324.31 L387.28,324.39 L388.31,324.47 L389.34,324.54 L390.37,324.61 L391.40,324.67 L392.43,324.73 L393.46,324.78 L394.50,324.83 L395.53,324.88 L396.56,324.92 L397.60,324.95 L398.63,324.99 L399.66,325.02 L400.69,325.05 L401.72,325.08 L402.75,325.10 L403.78,325.13 L404.80,325.15 L405.82,325.17 L406.85,325.19 L407.87,325.21 L408.88,325.23 L409.90,325.25 L410.91,325.27 L411.92,325.29 L412.93,325.31 L413.94,325.33 L414.95,325.35 L415.95,325.37 L416.95,325.39 L417.95,325.40 L418.95,325.42 L419.95,325.44 L420.95,325.45 L421.95,325.47 L422.94,325.48 L423.94,325.50 L424.93,325.51 L425.92,325.53 L426.92,325.54 L427.91,325.56 L428.90,325.57 L429.89,325.58 L430.88,325.59 L431.87,325.60 L432.86,325.61 L433.85,325.62 L434.84,325.63 L435.83,325.64 L436.82,325.65 L437.81,325.66 L438.80,325.67 L439.79,325.67 L440.79,325.68 L441.78,325.69 L442.77,325.69 L443.77,325.70 L444.76,325.70 L445.76,325.70 L446.75,325.71 L447.75,325.71 L448.75,325.71 L449.75,325.71 L450.75,325.71 L451.76,325.71 L452.76,325.71 L453.77,325.71 L454.78,325.70 L455.79,325.70 L456.80,325.70 L457.81,325.69 L458.83,325.69 L459.85,325.68 L460.87,325.67 L461.89,325.67 L462.92,325.66 L463.94,325.65 L464.97,325.64 L466.01,325.63 L467.04,325.62 L468.08,325.60 L469.12,325.59" fill="none" stroke="#333" stroke-width="0.9"/></g>
<g><rect x="561.0" y="200.5" width="158.50" height="132.00" fill="none" stroke="#707070" stroke-width="1"/><text x="548.00" y="336.40" font-size="10.9" text-anchor="end" fill="#111">0.0</text><line x1="561.0" y1="310.50" x2="564.6" y2="310.50" stroke="#707070" stroke-width="1"/><text x="548.00" y="314.40" font-size="10.9" text-anchor="end" fill="#111">0.2</text><line x1="561.0" y1="288.50" x2="564.6" y2="288.50" stroke="#707070" stroke-width="1"/><text x="548.00" y="292.40" font-size="10.9" text-anchor="end" fill="#111">0.4</text><line x1="561.0" y1="266.50" x2="564.6" y2="266.50" stroke="#707070" stroke-width="1"/><text x="548.00" y="270.40" font-size="10.9" text-anchor="end" fill="#111">0.6</text><line x1="561.0" y1="244.50" x2="564.6" y2="244.50" stroke="#707070" stroke-width="1"/><text x="548.00" y="248.40" font-size="10.9" text-anchor="end" fill="#111">0.8</text><line x1="561.0" y1="222.50" x2="564.6" y2="222.50" stroke="#707070" stroke-width="1"/><text x="548.00" y="226.40" font-size="10.9" text-anchor="end" fill="#111">1.0</text><text x="548.00" y="204.40" font-size="10.9" text-anchor="end" fill="#111">1.2</text><text x="561" y="349.60" font-size="10.9" text-anchor="middle" fill="#111">0</text><line x1="600.8" y1="332.5" x2="600.8" y2="329.5" stroke="#707070" stroke-width="1"/><text x="600.8" y="349.60" font-size="10.9" text-anchor="middle" fill="#111">0.5</text><line x1="639.9" y1="332.5" x2="639.9" y2="329.5" stroke="#707070" stroke-width="1"/><text x="639.9" y="349.60" font-size="10.9" text-anchor="middle" fill="#111">1</text><line x1="679.5" y1="332.5" x2="679.5" y2="329.5" stroke="#707070" stroke-width="1"/><text x="679.5" y="349.60" font-size="10.9" text-anchor="middle" fill="#111">1.5</text><text x="719.4" y="349.60" font-size="10.9" text-anchor="middle" fill="#111">2</text><text x="640.7" y="364.60" font-size="12.75" text-anchor="middle" fill="#111">Tetracycline (μg/mL)</text><text transform="translate(524.30,266.00) rotate(-90)" font-size="12.75" text-anchor="middle" fill="#111">OD<tspan font-size="8.8" dy="2.3" style="stroke-width:0.1px">600</tspan></text><text x="506.6" y="204.10" font-size="18.2" font-weight="bold" letter-spacing="-0.25" fill="#111" style="stroke-width:0.1px">(F)</text><circle cx="560.8" cy="210.7" r="2.6" fill="none" stroke="#000" stroke-width="1.1"/><circle cx="600.7" cy="299.7" r="2.6" fill="none" stroke="#000" stroke-width="1.1"/><circle cx="719.1" cy="325" r="2.6" fill="none" stroke="#000" stroke-width="1.1"/><circle cx="560.8" cy="216.4" r="3.0" fill="#000"/><circle cx="600.7" cy="316.7" r="3.0" fill="#000"/><circle cx="639.9" cy="324.6" r="3.0" fill="#000"/><path d="M560.80,216.39 L561.15,217.36 L561.50,218.32 L561.85,219.29 L562.20,220.25 L562.55,221.22 L562.90,222.18 L563.25,223.14 L563.60,224.10 L563.95,225.06 L564.30,226.02 L564.65,226.98 L564.99,227.94 L565.34,228.89 L565.68,229.85 L566.03,230.80 L566.37,231.76 L566.72,232.71 L567.06,233.66 L567.41,234.61 L567.75,235.56 L568.09,236.51 L568.44,237.46 L568.78,238.41 L569.12,239.36 L569.46,240.30 L569.81,241.25 L570.15,242.20 L570.49,243.14 L570.83,244.09 L571.17,245.04 L571.51,245.98 L571.85,246.93 L572.19,247.87 L572.53,248.82 L572.87,249.76 L573.21,250.70 L573.56,251.65 L573.90,252.59 L574.24,253.54 L574.58,254.48 L574.92,255.42 L575.26,256.37 L575.60,257.31 L575.94,258.26 L576.28,259.20 L576.62,260.15 L576.96,261.09 L577.30,262.04 L577.64,262.98 L577.99,263.93 L578.33,264.87 L578.67,265.82 L579.01,266.77 L579.35,267.71 L579.70,268.66 L580.04,269.61 L580.38,270.56 L580.73,271.51 L581.07,272.46 L581.42,273.41 L581.76,274.36 L582.11,275.31 L582.45,276.27 L582.80,277.22 L583.15,278.17 L583.49,279.13 L583.84,280.09 L584.19,281.04 L584.54,282.00 L584.89,282.96 L585.24,283.92 L585.59,284.88 L585.94,285.85 L586.29,286.81 L586.64,287.77 L586.99,288.74 L587.35,289.71 L587.70,290.68 L588.06,291.65 L588.41,292.62 L588.77,293.59 L589.13,294.56 L589.49,295.54 L589.85,296.51 L590.21,297.49 L590.58,298.46 L590.95,299.42 L591.33,300.39 L591.71,301.35 L592.11,302.31 L592.50,303.26 L592.91,304.20 L593.33,305.13 L593.75,306.06 L594.19,306.98 L594.64,307.89 L595.10,308.79 L595.57,309.67 L596.06,310.55 L596.56,311.41 L597.07,312.26 L597.60,313.09 L598.15,313.91 L598.72,314.71 L599.30,315.50 L599.90,316.27 L600.52,317.02 L601.16,317.75 L601.83,318.45 L602.51,319.14 L603.22,319.81 L603.95,320.46 L604.70,321.08 L605.48,321.68 L606.29,322.25 L607.12,322.80 L607.97,323.31 L608.85,323.80 L609.75,324.25 L610.67,324.67 L611.61,325.04 L612.56,325.37 L613.53,325.65 L614.51,325.88 L615.51,326.06 L616.51,326.19 L617.52,326.27 L618.54,326.32 L619.57,326.32 L620.59,326.29 L621.62,326.24 L622.66,326.16 L623.69,326.07 L624.71,325.96 L625.74,325.84 L626.77,325.71 L627.79,325.57 L628.81,325.44 L629.83,325.31 L630.84,325.19 L631.86,325.08 L632.87,324.98 L633.88,324.91 L634.89,324.85 L635.89,324.82 L636.90,324.81 L637.90,324.84 L638.90,324.90 L639.90,325.01" fill="none" stroke="#333" stroke-width="0.9"/><path d="M560.80,210.70 L561.16,211.64 L561.53,212.57 L561.89,213.50 L562.26,214.43 L562.63,215.36 L563.00,216.29 L563.37,217.23 L563.74,218.16 L564.11,219.09 L564.48,220.02 L564.86,220.96 L565.23,221.89 L565.60,222.82 L565.98,223.75 L566.35,224.69 L566.73,225.62 L567.10,226.55 L567.48,227.48 L567.86,228.42 L568.23,229.35 L568.61,230.28 L568.99,231.22 L569.36,232.15 L569.74,233.08 L570.12,234.02 L570.50,234.95 L570.87,235.88 L571.25,236.82 L571.63,237.75 L572.01,238.68 L572.38,239.62 L572.76,240.55 L573.14,241.48 L573.52,242.42 L573.89,243.35 L574.27,244.29 L574.65,245.22 L575.02,246.15 L575.40,247.09 L575.77,248.02 L576.15,248.95 L576.52,249.89 L576.90,250.82 L577.27,251.76 L577.65,252.69 L578.02,253.62 L578.39,254.56 L578.76,255.49 L579.13,256.43 L579.51,257.36 L579.87,258.30 L580.24,259.23 L580.61,260.16 L580.98,261.10 L581.35,262.03 L581.71,262.97 L582.08,263.90 L582.44,264.83 L582.80,265.77 L583.17,266.70 L583.53,267.64 L583.89,268.57 L584.25,269.51 L584.61,270.44 L584.97,271.37 L585.33,272.30 L585.70,273.23 L586.06,274.16 L586.43,275.09 L586.80,276.02 L587.18,276.94 L587.56,277.87 L587.94,278.79 L588.33,279.71 L588.73,280.62 L589.13,281.54 L589.53,282.45 L589.94,283.36 L590.37,284.26 L590.79,285.16 L591.23,286.06 L591.67,286.95 L592.13,287.84 L592.59,288.73 L593.07,289.61 L593.55,290.49 L594.04,291.36 L594.55,292.23 L595.07,293.10 L595.59,293.96 L596.13,294.82 L596.67,295.67 L597.23,296.52 L597.79,297.37 L598.35,298.22 L598.92,299.07 L599.50,299.91 L600.08,300.76 L600.66,301.60 L601.25,302.44 L601.85,303.28 L602.45,304.11 L603.06,304.93 L603.68,305.74 L604.32,306.53 L604.97,307.31 L605.63,308.06 L606.31,308.79 L607.01,309.49 L607.73,310.17 L608.47,310.81 L609.22,311.44 L610.00,312.03 L610.79,312.61 L611.59,313.16 L612.41,313.68 L613.25,314.19 L614.09,314.67 L614.95,315.13 L615.83,315.57 L616.71,315.99 L617.61,316.39 L618.52,316.78 L619.43,317.14 L620.36,317.49 L621.29,317.83 L622.24,318.15 L623.19,318.45 L624.14,318.74 L625.10,319.02 L626.07,319.28 L627.04,319.54 L628.02,319.78 L628.99,320.01 L629.97,320.23 L630.96,320.44 L631.94,320.65 L632.93,320.84 L633.92,321.03 L634.91,321.21 L635.90,321.38 L636.89,321.55 L637.89,321.70 L638.88,321.85 L639.88,322.00 L640.88,322.14 L641.88,322.27 L642.88,322.40 L643.88,322.52 L644.88,322.64 L645.89,322.75 L646.89,322.86 L647.90,322.96 L648.90,323.06 L649.91,323.16 L650.91,323.25 L651.92,323.34 L652.93,323.43 L653.93,323.52 L654.94,323.60 L655.94,323.69 L656.95,323.77 L657.96,323.85 L658.96,323.93 L659.97,324.01 L660.97,324.09 L661.98,324.17 L662.98,324.25 L663.98,324.33 L664.99,324.41 L665.99,324.49 L666.99,324.57 L667.99,324.64 L668.99,324.72 L669.99,324.80 L671.00,324.88 L672.00,324.95 L673.00,325.03 L674.00,325.10 L675.00,325.18 L676.00,325.25 L677.00,325.32 L678.00,325.39 L679.00,325.47 L680.00,325.54 L681.00,325.61 L682.00,325.68 L682.99,325.75 L683.99,325.81 L684.99,325.88 L685.99,325.95 L686.99,326.01 L687.99,326.08 L688.99,326.14 L689.99,326.21 L690.99,326.27 L691.99,326.33 L692.99,326.39 L693.99,326.45 L694.99,326.51 L695.99,326.57 L696.99,326.63 L697.99,326.68 L698.99,326.74 L700.00,326.79 L701.00,326.84 L702.00,326.89 L703.00,326.95 L704.01,326.99 L705.01,327.04 L706.01,327.09 L707.02,327.14 L708.02,327.18 L709.03,327.22 L710.03,327.27 L711.04,327.31 L712.04,327.35 L713.05,327.39 L714.06,327.42 L715.07,327.46 L716.07,327.49 L717.08,327.53 L718.09,327.56 L719.10,327.59" fill="none" stroke="#333" stroke-width="0.9"/></g>
</svg>
</body></html>
